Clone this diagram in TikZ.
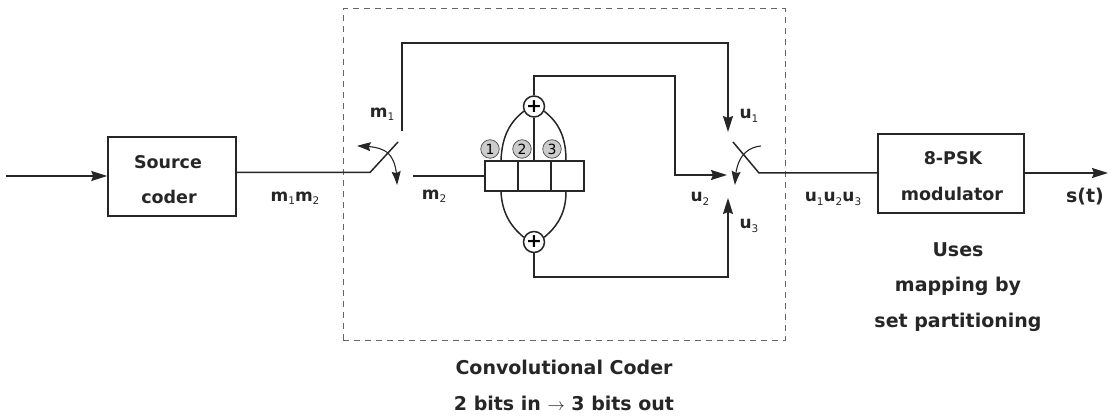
\documentclass[tikz,border=0pt]{standalone}
\usepackage{fontspec}
\newfontfamily\lblfont{DejaVu Sans Bold}
\newfontfamily\subfont{DejaVu Sans}
\usetikzlibrary{arrows.meta,bending}
\tikzset{
 wire/.style={line width=1.5pt,draw=black!85},
 arr/.style={wire,-{Stealth[length=16pt,width=10pt,inset=2pt]}},
 curvearr/.style={line width=1.1pt,draw=black!85,-{Stealth[length=14pt,width=9pt,inset=2pt,bend]}},
 blockbox/.style={draw=black!85,line width=1.5pt,fill=white,inner sep=0pt},
 regcell/.style={draw=black!85,line width=1.5pt,inner sep=0pt,minimum width=33pt,minimum height=30pt},
 adder/.style={circle,draw=black!85,line width=1.5pt,fill=white,minimum size=21pt,inner sep=0pt,font=\lblfont\fontsize{19}{19}\selectfont},
 tap/.style={circle,draw=black!70,line width=.7pt,fill=black!20,minimum size=18.5pt,inner sep=0pt,font=\subfont\fontsize{14}{14}\selectfont},
 lbl/.style={inner sep=0pt,font=\lblfont\fontsize{17}{22}\selectfont,text=black!85},
 boxlbl/.style={lbl,font=\lblfont\fontsize{17.5}{22}\selectfont},
 caplbl/.style={lbl,font=\lblfont\fontsize{19}{24}\selectfont},
}
\newcommand{\sbs}[1]{\raisebox{-3.5pt}{\subfont\fontsize{10.5}{12}\selectfont #1}}
\begin{document}
\begin{tikzpicture}[x=1pt,y=-1pt]
\useasboundingbox (0,0) rectangle (1112,417);
\node[draw=black!60,dash pattern=on 6pt off 5pt,line width=1pt,minimum width=442pt,minimum height=331pt,inner sep=0pt] (coderbox) at (564,174.5) {};
\coordinate (inA) at (6,176);
\node[blockbox,minimum width=128pt,minimum height=79pt] (src) at (172,176.5) {};
\node[blockbox,minimum width=146pt,minimum height=79pt] (mod) at (951,173.5) {};
\node[boxlbl] (t1) at (168,162) {Source};
\node[boxlbl] (t2) at (169,197) {coder};
\node[boxlbl] (t3) at (953,158) {8-PSK};
\node[boxlbl] (t4) at (952,194) {modulator};
\draw[arr] (inA) -- (src.west |- inA);
% switch left
\coordinate (s1) at (370,172.5);
\coordinate (s2) at (398,142);
\draw[wire] (src.east |- s1) -- (s1) -- (s2);
\coordinate (a1) at (357,146);
\coordinate (a2) at (397,185);
\coordinate (a0) at (388,153);
\draw[curvearr] (a0) .. controls (382,148) and (372,146) .. (a1);
\draw[curvearr] (a0) .. controls (394,159) and (397,168) .. (a2);
% m1 path
\coordinate (m1s) at (402,131);
\coordinate (u1t) at (728,132);
\draw[arr] (m1s) -- (402,43) -- (728,43) -- (u1t);
% register
\node[regcell] (r1) at (501.5,176) {};
\node[regcell] (r2) at (534.5,176) {};
\node[regcell] (r3) at (567.5,176) {};
\coordinate (m2s) at (413,176);
\draw[wire] (m2s) -- (r1.west);
% adders
\node[adder] (pt) at (534,106.5) {+};
\node[adder] (pb) at (534,242) {+};
\draw[wire] (pt) -- (pt |- r2.north);
\draw[wire] (r1.north) ++(-0.5,0) .. controls (502,136) and (510,122) .. (pt.205);
\draw[wire] (r3.north) ++(-1.5,0) .. controls (566,136) and (558,122) .. (pt.-25);
\draw[wire] (r1.south) ++(-0.5,0) .. controls (502,212) and (510,226) .. (pb.155);
\draw[wire] (r3.south) ++(-1.5,0) .. controls (566,212) and (558,226) .. (pb.25);
\node[tap] (c1) at (490,149) {1};
\node[tap] (c2) at (522,149) {2};
\node[tap] (c3) at (552,149) {3};
\coordinate (u2t) at (727,175);
\draw[arr] (pt.north) -- (534,76) -- (675,76) -- (675,175) -- (u2t);
\coordinate (u3t) at (728,198);
\draw[arr] (pb.south) -- (534,277) -- (728,277) -- (u3t);
% switch right
\coordinate (w1) at (733,142);
\coordinate (w2) at (759,173);
\draw[wire] (w1) -- (w2) -- (mod.west |- w2);
\coordinate (b1) at (761,146);
\coordinate (b2) at (735,185);
\draw[curvearr] (b1) .. controls (748,147) and (735,156) .. (b2);
\coordinate (outB) at (1108,173);
\draw[arr] (mod.east |- outB) -- (outB);
% labels
\node[lbl] (l1) at (295,198) {m\sbs{1}m\sbs{2}};
\node[lbl] (l2) at (382,114) {m\sbs{1}};
\node[lbl] (l3) at (434,196) {m\sbs{2}};
\node[lbl] (l4) at (749,116) {u\sbs{1}};
\node[lbl] (l5) at (700,199) {u\sbs{2}};
\node[lbl] (l6) at (749,226) {u\sbs{3}};
\node[lbl] (l7) at (833,199) {u\sbs{1}u\sbs{2}u\sbs{3}};
\node[caplbl] (l8) at (1085,197) {s(t)};
\node[caplbl] (n1) at (958,250) {Uses};
\node[caplbl] (n2) at (958,286) {mapping by};
\node[caplbl] (n3) at (958,322) {set partitioning};
\node[caplbl] (c4) at (564,367) {Convolutional Coder};
\node[caplbl] (c5) at (564,403) {2 bits in $\rightarrow$ 3 bits out};
\end{tikzpicture}
\end{document}
